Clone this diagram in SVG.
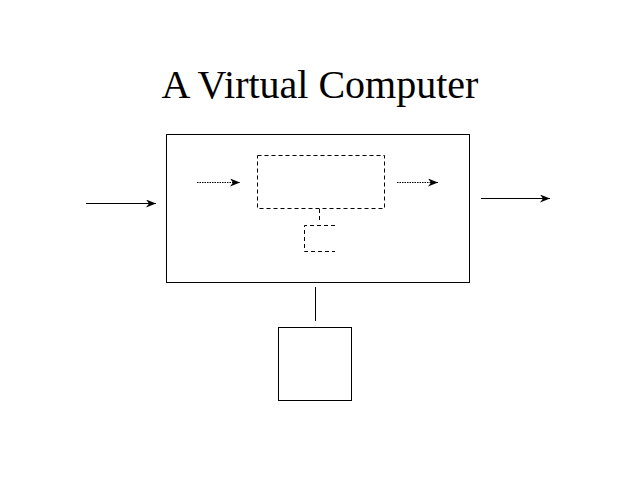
<svg xmlns="http://www.w3.org/2000/svg" width="640" height="480" viewBox="0 0 640 480">
<defs>
<style>
.box{fill:none;stroke:#000;stroke-width:1}
.dash{fill:none;stroke:#000;stroke-width:1;stroke-dasharray:4 3}
.line{fill:none;stroke:#000;stroke-width:1}
.dot{fill:none;stroke:#000;stroke-width:1;stroke-dasharray:1.5 1}
.title{font-family:"Liberation Serif","Times New Roman",serif;font-size:40px;fill:#000}
</style>
<marker id="ah" viewBox="0 0 10 8" refX="10" refY="4" markerWidth="10" markerHeight="8" markerUnits="userSpaceOnUse" orient="auto">
<path d="M0,0 L10,4 L0,8 L3,4 Z" fill="#000"/>
</marker>
</defs>
<rect width="640" height="480" fill="#fff"/>
<text class="title" x="320" y="98" text-anchor="middle">A Virtual Computer</text>
<g id="computer"><rect class="box" x="166.5" y="134.5" width="303" height="148"/></g>
<g id="processor"><rect class="dash" x="257.5" y="155.5" width="127" height="53"/></g>
<g id="bracket"><path class="dash" d="M335,225.5 H304.5 V251.5 H335"/></g>
<g id="storage"><rect class="box" x="278.5" y="327.5" width="73" height="73"/></g>
<g id="connectors">
<line class="line" x1="86" y1="203.5" x2="156" y2="203.5" marker-end="url(#ah)"/>
<line class="line" x1="481" y1="198.5" x2="550" y2="198.5" marker-end="url(#ah)"/>
<line class="dot" x1="197" y1="182.5" x2="240" y2="182.5" marker-end="url(#ah)"/>
<line class="dot" x1="397" y1="182.5" x2="438" y2="182.5" marker-end="url(#ah)"/>
<line class="dash" x1="319.5" y1="209" x2="319.5" y2="222"/>
<line class="line" x1="315.5" y1="287" x2="315.5" y2="321"/>
</g>
</svg>
